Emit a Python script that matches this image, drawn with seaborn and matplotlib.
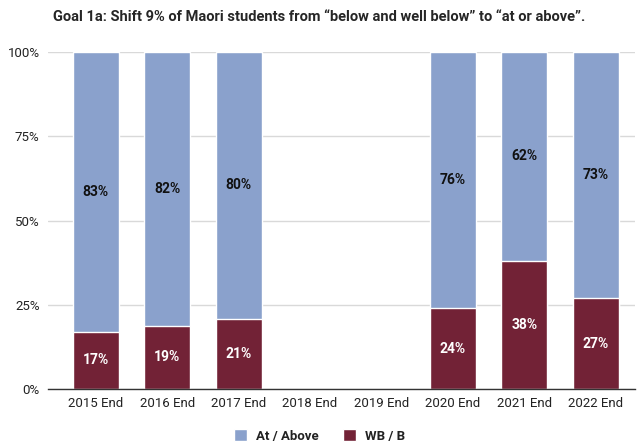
import matplotlib
matplotlib.use("Agg")
import matplotlib.pyplot as plt
import matplotlib.ticker as mtick
from matplotlib.patches import Patch
import numpy as np
import pandas as pd
import seaborn as sns

years = ['2015 End', '2016 End', '2017 End', '2018 End', '2019 End',
         '2020 End', '2021 End', '2022 End']
at_above = [83, 82, 80, np.nan, np.nan, 76, 62, 73]
wb_b = [17, 19, 21, np.nan, np.nan, 24, 38, 27]

BLUE = '#8aa1cc'
MAROON = '#722236'

df = pd.DataFrame({'year': years, 'at_above': at_above, 'wb_b': wb_b})
total = df['at_above'] + df['wb_b']
df['full'] = total / total          # 100% stacked
df['wb_share'] = df['wb_b'] / total

sns.set_style('white')
plt.rcParams['font.family'] = ['Roboto', 'DejaVu Sans']

fig = plt.figure(figsize=(6.39, 4.46), dpi=100)
ax = fig.add_axes([48 / 639, 1 - 389 / 446, 587 / 639, 337 / 446])

sns.barplot(data=df, x='year', y='full', color=BLUE, width=0.64,
            saturation=1, ax=ax, order=years)
sns.barplot(data=df, x='year', y='wb_share', color=MAROON, width=0.64,
            saturation=1, ax=ax, order=years)

for i, row in df.iterrows():
    if np.isnan(row['wb_b']):
        continue
    w = row['wb_share']
    ax.text(i, w / 2, f"{int(row['wb_b'])}%", ha='center', va='center',
            color='white', fontsize=10, fontweight='bold')
    ax.text(i, w + (1 - w) / 2, f"{int(row['at_above'])}%", ha='center',
            va='center', color='#111111', fontsize=10, fontweight='bold')

ax.set_ylim(0, 1)
ax.set_xlim(-0.67, 7.55)
ax.set_yticks([0, 0.25, 0.5, 0.75, 1.0])
ax.yaxis.set_major_formatter(mtick.PercentFormatter(1.0, decimals=0))
ax.grid(axis='y', color='#d9d9d9', linewidth=1)
ax.set_axisbelow(True)
for s in ['top', 'right', 'left']:
    ax.spines[s].set_visible(False)
ax.spines['bottom'].set_color('#333333')
ax.spines['bottom'].set_linewidth(1)
ax.tick_params(axis='both', length=0, labelsize=9.5, colors='#222222', pad=6)
ax.set_xlabel('')
ax.set_ylabel('')

fig.text(0.5, 1 - 17 / 446,
         'Goal 1a: Shift 9% of Maori students from \u201cbelow and well below\u201d to \u201cat or above\u201d.',
         ha='center', va='center', fontsize=10.5, fontweight='bold',
         family=['Liberation Sans Narrow', 'Roboto', 'DejaVu Sans'])

handles = [Patch(facecolor=BLUE, label='At / Above'),
           Patch(facecolor=MAROON, label='WB / B')]
leg = fig.legend(handles=handles, loc='center', bbox_to_anchor=(0.5, 1 - 436 / 446),
                 ncol=2, frameon=False, fontsize=9.5, handlelength=1.0,
                 handleheight=1.0, columnspacing=1.8, handletextpad=0.7)
for t in leg.get_texts():
    t.set_fontweight('bold')
    t.set_color('#222222')

fig.savefig('out.png', dpi=100)
